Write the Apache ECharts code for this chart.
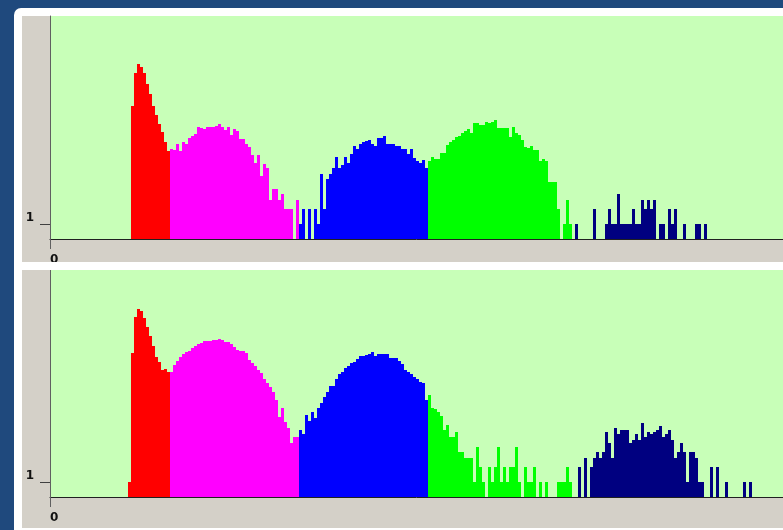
<!DOCTYPE html>
<html>
<head>
<meta charset="utf-8">
<script src="https://cdn.jsdelivr.net/npm/echarts@6/dist/echarts.min.js"></script>
<style>
  html, body { margin: 0; padding: 0; background: #1f497d; overflow: hidden; }
  #chart { width: 783px; height: 530px; }
</style>
</head>
<body>
<div id="chart"></div>
<script>
// Histogram counts per bin. Each run starts at the given bin index.
const topRedStart = 27;
const topRed = [237, 1088, 1603, 1395, 1058, 636, 401, 233, 152, 102, 69, 45, 29];
const topMagentaStart = 40;
const topMagenta = [32, 30, 40, 29, 45, 41, 54, 58, 63, 87, 83, 82, 87, 87, 87, 91, 100, 87, 78, 89,
  62, 82, 75, 51, 51, 40, 35, 24, 17, 24, 9, 16, 13, 3, 5, 5, 3, 4, 2, 2, 2, 0, 3];
const topBlueStart = 83;
const topBlue = [1, 2, 0, 2, 0, 2, 1, 10, 2, 8, 10, 13, 22, 13, 15, 22, 17, 25, 36, 32,
  40, 44, 47, 49, 40, 36, 54, 54, 59, 40, 40, 40, 36, 37, 32, 32, 25, 32, 21, 18, 17, 19, 13];
const topGreenStart = 126;
const topGreen = [18, 22, 20, 20, 26, 26, 39, 44, 49, 55, 59, 68, 74, 81, 66, 107, 106, 99, 99, 110,
  107, 110, 120, 86, 86, 85, 85, 57, 87, 66, 61, 49, 35, 33, 36, 30, 30, 18, 20, 18,
  7, 7, 7, 2, 0, 1, 3, 1];
const topNavyStart = 175;
const topNavy = [1, 0, 0, 0, 0, 0, 2, 0, 0, 0, 1, 2, 1, 1, 4, 1, 1, 1, 1, 2,
  1, 1, 3, 2, 3, 2, 3, 0, 1, 1, 0, 2, 1, 2, 0, 0, 1, 0, 0, 0, 1, 1, 0, 1];

const botRedStart = 26;
const botRed = [1, 383, 2020, 2964, 2702, 1922, 1309, 851, 543, 327, 252, 174, 185, 164];
const botMagentaStart = 40;
const botMagenta = [164, 223, 268, 327, 365, 401, 431, 482, 543, 580, 626, 688, 688, 688, 710, 710, 734, 710, 656, 656,
  580, 518, 446, 431, 431, 383, 281, 240, 211, 181, 156, 116, 99, 82, 65, 45, 20, 31, 16, 12,
  6, 8, 8];
const botBlueStart = 83;
const botBlue = [11, 9, 22, 17, 25, 19, 30, 38, 51, 65, 86, 86, 116, 144, 165, 190, 211, 240, 260, 294,
  338, 331, 354, 371, 401, 343, 368, 371, 371, 371, 304, 308, 308, 268, 233, 181, 164, 144, 126, 115,
  100, 99, 45];
const botGreenStart = 126;
const botGreen = [56, 30, 29, 25, 21, 11, 14, 8, 8, 10, 4, 4, 3, 3, 3, 1, 5, 2, 1, 0,
  2, 1, 2, 5, 1, 2, 1, 2, 2, 5, 1, 0, 2, 1, 1, 2, 0, 1, 0, 1,
  0, 0, 0, 1, 1, 1, 2, 1];
const botNavyStart = 176;
const botNavy = [2, 0, 3, 0, 2, 3, 4, 3, 4, 10, 6, 3, 12, 9, 11, 11, 11, 6, 7, 9,
  7, 15, 8, 10, 9, 10, 11, 13, 8, 9, 11, 7, 3, 4, 6, 4, 1, 4, 4, 3,
  1, 1, 0, 0, 2, 0, 2, 0, 0, 1, 0, 0, 0, 0, 0, 1, 0, 1];

// Axis ticks that carry a label
const xTickValues = [0];
const yTickValues = [1];

const COLORS = { red: '#ff0000', magenta: '#ff00ff', blue: '#0000ff', green: '#00ff00', navy: '#000080' };
const Y_MIN = 0.5;
const Y_MAX = [14940, 17970];
const X_MAX = 244.33;
const PANEL = '#d4d0c8';
const PLOT_BG = '#c8ffb8';
const FONT = 'DejaVu Sans';

function runData(start, counts) {
  return counts.map((c, k) => [start + k, c]).filter(d => d[1] > 0);
}

function histSeries(name, start, counts, color, g) {
  return {
    type: 'custom',
    name: name,
    xAxisIndex: g,
    yAxisIndex: g,
    data: runData(start, counts),
    clip: true,
    renderItem: function (params, api) {
      const i = api.value(0);
      const v = api.value(1);
      const top = api.coord([i, v]);
      const base = api.coord([i + 1, Y_MIN]);
      const x0 = Math.round(top[0]);
      const x1 = Math.round(base[0]);
      const y0 = Math.round(top[1]);
      return {
        type: 'rect',
        shape: { x: x0, y: y0, width: x1 - x0, height: base[1] - y0 },
        style: { fill: color }
      };
    }
  };
}

const panels = [
  [[topRedStart, topRed, 'red'], [topMagentaStart, topMagenta, 'magenta'], [topBlueStart, topBlue, 'blue'],
   [topGreenStart, topGreen, 'green'], [topNavyStart, topNavy, 'navy']],
  [[botRedStart, botRed, 'red'], [botMagentaStart, botMagenta, 'magenta'], [botBlueStart, botBlue, 'blue'],
   [botGreenStart, botGreen, 'green'], [botNavyStart, botNavy, 'navy']]
];

const series = [];
panels.forEach((runs, g) => {
  runs.forEach(r => series.push(histSeries(r[2] + g, r[0], r[1], COLORS[r[2]], g)));
});

const labelStyle = { color: '#111111', fontFamily: FONT, fontSize: 12, fontWeight: 'bold' };

const chart = echarts.init(document.getElementById('chart'), null, { renderer: 'canvas' });
chart.setOption({
  animation: false,
  backgroundColor: '#1f497d',
  graphic: [
    { type: 'rect', z: -10, shape: { x: 14, y: 8, width: 790, height: 540, r: [7, 0, 0, 0] }, style: { fill: '#ffffff' } },
    { type: 'rect', z: -9, shape: { x: 22, y: 16, width: 780, height: 262 }, style: { fill: PANEL } },
    { type: 'rect', z: -9, shape: { x: 22, y: 270, width: 780, height: 258 }, style: { fill: PANEL } },
    { type: 'rect', z: 100, shape: { x: 22, y: 262, width: 780, height: 8 }, style: { fill: '#ffffff' } }
  ],
  grid: [
    { left: 50, top: 16, right: 0, height: 223, show: true, backgroundColor: PLOT_BG, borderWidth: 0 },
    { left: 50, top: 270, right: 0, height: 227, show: true, backgroundColor: PLOT_BG, borderWidth: 0 }
  ],
  xAxis: [0, 1].map(g => ({
    type: 'value',
    gridIndex: g,
    min: 0,
    max: X_MAX,
    axisLine: { show: true, onZero: false, lineStyle: { color: '#202020', width: 1 } },
    axisTick: { show: true, customValues: xTickValues, length: 10, lineStyle: { color: '#606060' } },
    axisLabel: Object.assign({ show: true, customValues: xTickValues, margin: 15, align: 'left' }, labelStyle),
    splitLine: { show: false }
  })),
  yAxis: [0, 1].map(g => ({
    type: 'log',
    logBase: 2,
    gridIndex: g,
    min: Y_MIN,
    max: Y_MAX[g],
    axisLine: { show: true, onZero: false, lineStyle: { color: '#606060', width: 1 } },
    axisTick: { show: true, customValues: yTickValues, length: 10, lineStyle: { color: '#404040' } },
    axisLabel: Object.assign({ show: true, customValues: yTickValues, margin: 16, verticalAlign: 'bottom' }, labelStyle),
    splitLine: { show: false }
  })),
  series: series
});
</script>
</body>
</html>
